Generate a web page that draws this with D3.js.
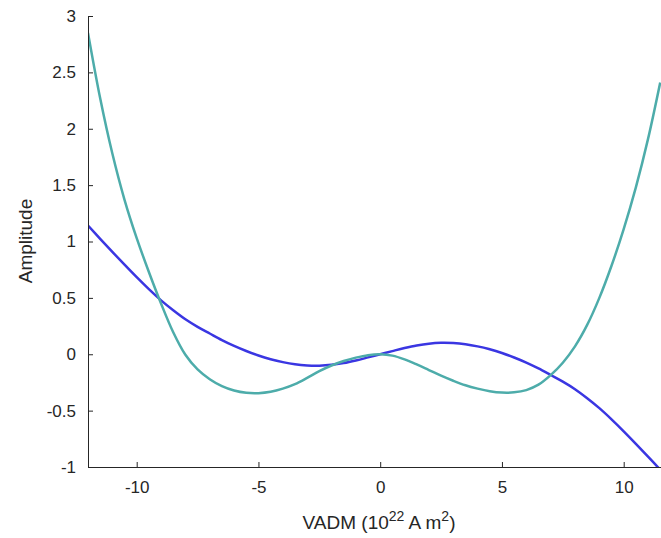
<!DOCTYPE html>
<html>
<head>
<meta charset="utf-8">
<script src="https://cdn.jsdelivr.net/npm/d3@7"></script>
<style>
  body { margin: 0; background: #fff; }
  svg text { font-family: "Liberation Sans", Arial, Helvetica, sans-serif; fill: #262626; }
  .axis path, .axis line { stroke: #262626; }
</style>
</head>
<body>
<div id="chart"></div>
<script>
let w = 661;
let h = 538;

// x values (VADM, 10^22 A m^2)
let xs = [-12, -11.5, -11, -10.5, -10, -9.5, -9, -8.5, -8, -7.5, -7, -6.5, -6, -5.5, -5,
  -4.5, -4, -3.5, -3, -2.5, -2, -1.5, -1, -0.5, 0, 0.5, 1, 1.5, 2, 2.5, 3, 3.5, 4, 4.5,
  5, 5.5, 6, 6.5, 7, 7.5, 8, 8.5, 9, 9.5, 10, 10.5, 11, 11.5];

// blue curve
let blueVals = [1.142, 1.024, 0.908, 0.794, 0.683, 0.577, 0.478, 0.39, 0.31, 0.243, 0.184,
  0.126, 0.074, 0.029, -0.011, -0.044, -0.07, -0.089, -0.099, -0.101, -0.094, -0.078,
  -0.055, -0.028, 0, 0.028, 0.055, 0.078, 0.094, 0.101, 0.099, 0.089, 0.07, 0.044, 0.011,
  -0.029, -0.074, -0.126, -0.184, -0.243, -0.31, -0.39, -0.478, -0.577, -0.683, -0.794,
  -0.908, -1.024];

// teal curve
let tealVals = [2.85, 2.27, 1.78, 1.37, 1.03, 0.73, 0.45, 0.195, -0.005, -0.135, -0.222,
  -0.283, -0.322, -0.342, -0.345, -0.333, -0.305, -0.265, -0.21, -0.15, -0.10, -0.06, -0.03,
  -0.008, 0, -0.012, -0.045, -0.09, -0.14, -0.19, -0.235, -0.275, -0.305, -0.328, -0.34,
  -0.338, -0.318, -0.27, -0.185, -0.075, 0.07, 0.26, 0.50, 0.785, 1.11, 1.48, 1.91, 2.41];

let xTicks = [-10, -5, 0, 5, 10];
let yTicks = [-1, -0.5, 0, 0.5, 1, 1.5, 2, 2.5, 3];

let padLeft = 88, padRight = 660.7, padTop = 16, padBottom = 467;

let viz = d3.select("#chart")
  .append("svg")
  .attr("width", w)
  .attr("height", h);

let xScale = d3.scaleLinear().domain([-12, 11.52]).range([padLeft, padRight]);
let yScale = d3.scaleLinear().domain([-1, 3]).range([padBottom, padTop]);

viz.append("clipPath").attr("id", "plotclip")
  .append("rect")
  .attr("x", padLeft).attr("y", padTop)
  .attr("width", w - padLeft).attr("height", padBottom - padTop);

let line = d3.line()
  .x(d => xScale(d[0]))
  .y(d => yScale(d[1]))
  .curve(d3.curveCatmullRom.alpha(0.5));

let blueData = xs.map((x, i) => [x, blueVals[i]]);
let tealData = xs.map((x, i) => [x, tealVals[i]]);

let lines = viz.append("g").attr("clip-path", "url(#plotclip)");

lines.append("path")
  .datum(blueData)
  .attr("d", line)
  .attr("fill", "none")
  .attr("stroke", "#3a36e2")
  .attr("stroke-width", 2.5);

lines.append("path")
  .datum(tealData)
  .attr("d", line)
  .attr("fill", "none")
  .attr("stroke", "#4dacaa")
  .attr("stroke-width", 2.5);

// axes, ticks pointing inward like the original
let xAxis = d3.axisBottom(xScale)
  .tickValues(xTicks)
  .tickSizeInner(-5)
  .tickSizeOuter(0)
  .tickPadding(14)
  .tickFormat(d => String(d));

let xAxisGroup = viz.append("g")
  .attr("class", "axis")
  .attr("transform", "translate(0," + padBottom + ")")
  .call(xAxis);
xAxisGroup.select(".domain").attr("d", "M" + padLeft + ",0.5H" + w);
xAxisGroup.selectAll("text").attr("font-size", 17);

let yAxis = d3.axisLeft(yScale)
  .tickValues(yTicks)
  .tickSizeInner(-5)
  .tickSizeOuter(0)
  .tickPadding(12)
  .tickFormat(d => String(d));

let yAxisGroup = viz.append("g")
  .attr("class", "axis")
  .attr("transform", "translate(" + padLeft + ",0)")
  .call(yAxis);
yAxisGroup.selectAll("text").attr("font-size", 17);

// axis titles
let xlab = viz.append("text")
  .attr("x", 379)
  .attr("y", 529)
  .attr("text-anchor", "middle")
  .attr("font-size", 19);
xlab.append("tspan").text("VADM (10");
xlab.append("tspan").attr("dy", -8).attr("font-size", 14).text("22");
xlab.append("tspan").attr("dy", 8).text(" A m");
xlab.append("tspan").attr("dy", -8).attr("font-size", 14).text("2");
xlab.append("tspan").attr("dy", 8).text(")");

viz.append("text")
  .attr("transform", "translate(32,241) rotate(-90)")
  .attr("text-anchor", "middle")
  .attr("font-size", 19)
  .text("Amplitude");
</script>
</body>
</html>
